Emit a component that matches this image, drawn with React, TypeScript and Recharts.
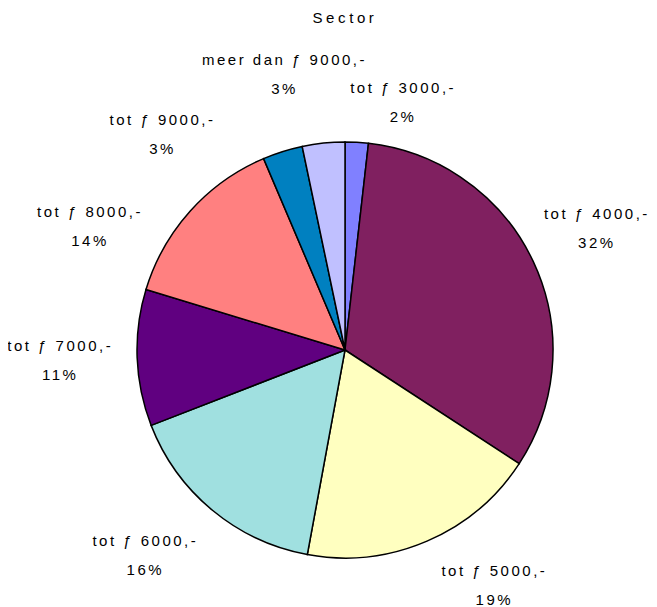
import React from 'react';
import { PieChart, Pie, Cell } from 'recharts';

const sectors = [
  'tot ƒ 3000,-',
  'tot ƒ 4000,-',
  'tot ƒ 5000,-',
  'tot ƒ 6000,-',
  'tot ƒ 7000,-',
  'tot ƒ 8000,-',
  'tot ƒ 9000,-',
  'meer dan ƒ 9000,-',
];

const shares = [1.8, 32.4, 18.7, 16.2, 10.6, 13.9, 3.1, 3.3];

const colors = [
  '#8080FF',
  '#802060',
  '#FFFFC0',
  '#A0E0E0',
  '#600080',
  '#FF8080',
  '#0080C0',
  '#C0C0FF',
];

// Excel moved a few labels off the radial line, nudge them back
const labelNudge = [
  [42, 37],
  [-6, 0],
  [37, -26],
  [-18, -14],
  [0, 0],
  [-43, 67],
  [-97, 56],
  [-31, 8],
];

const data = sectors.map((name, i) => ({ name, value: shares[i] }));

const RAD = Math.PI / 180;
const textStyle = {
  fontFamily: 'Arial, "Liberation Sans", sans-serif',
  fontSize: 15,
  letterSpacing: 2.5,
  fill: '#000',
};

const renderLabel = (props: any) => {
  const { cx, cy, midAngle, index, percent } = props;
  const r = 285;
  const x = cx + r * Math.cos(-midAngle * RAD) + labelNudge[index][0];
  const y = cy + r * Math.sin(-midAngle * RAD) + labelNudge[index][1];
  return (
    <g key={'lbl' + index}>
      <text x={x} y={y - 9.5} textAnchor="middle" style={textStyle}>
        {sectors[index]}
      </text>
      <text x={x} y={y + 19.5} textAnchor="middle" style={textStyle}>
        {Math.round(percent * 100) + '%'}
      </text>
    </g>
  );
};

const App = () => {
  return <div style={{ marginLeft: -8, marginTop: -8 }}>
    <PieChart width={657} height={607} margin={{ top: 0, right: 0, bottom: 0, left: 0 }}>
      <text
        x={345}
        y={23}
        textAnchor="middle"
        style={{ ...textStyle, fontSize: 15, letterSpacing: 3.6 }}
      >
        Sector
      </text>
      <Pie
        data={data}
        dataKey="value"
        nameKey="name"
        cx={345}
        cy={350}
        outerRadius={208}
        startAngle={90}
        endAngle={-270}
        stroke="#000"
        strokeWidth={1.5}
        label={renderLabel}
        labelLine={false}
        isAnimationActive={false}
      >
        {data.map((d, i) => <Cell key={d.name} fill={colors[i]} />)}
      </Pie>
    </PieChart>
  </div>;
};

export default App;
